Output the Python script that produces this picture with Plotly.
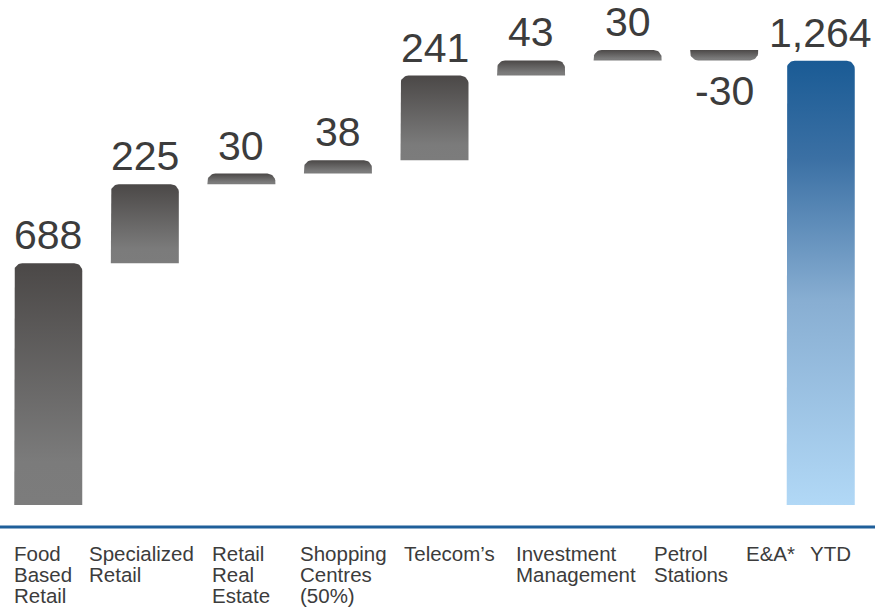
import numpy as np
import plotly.graph_objects as go

# Waterfall data
categories = ["Food Based Retail", "Specialized Retail", "Retail Real Estate",
              "Shopping Centres (50%)", "Telecom’s", "Investment Management",
              "Petrol Stations", "E&A*", "YTD"]
tick_lines = [["Food", "Based", "Retail"], ["Specialized", "Retail"],
              ["Retail", "Real", "Estate"], ["Shopping", "Centres", "(50%)"],
              ["Telecom’s"], ["Investment", "Management"], ["Petrol", "Stations"],
              ["E&A*"], ["YTD"]]
deltas = [688, 225, 30, 38, 241, 43, 30, -30]
total = 1264

# ---- layout constants (pixels) ----
W, H = 875, 608
M_L, M_R, M_T, M_B = 0, 6, 0, 103
PLOT_W = W - M_L - M_R
PLOT_H = H - M_T - M_B
Y_MAX = 1437.0
X_RANGE = [-0.5, 8.5]
px_per_x = PLOT_W / (X_RANGE[1] - X_RANGE[0])
px_per_y = PLOT_H / Y_MAX
HALF_W = 34 / px_per_x
RADIUS_PX = 8

GRAY_SCALE = [[0, "#7c7c7c"], [0.18, "#7b7b7b"], [1, "#4b4847"]]
BLUE_SCALE = [[0, "#b1d8f6"], [0.46, "#88aed2"], [0.78, "#3b70a4"], [1, "#1a5b95"]]
TEXT_COLOR = "#3c3c3c"
FONT = "Liberation Sans, Arial, sans-serif"

# bar extents from the running total
cum = np.cumsum(deltas)
starts = np.concatenate([[0], cum[:-1]])
bases = list(starts) + [0]
ends = list(cum) + [total]
values = deltas + [total]


def rounded_bar(xc, base, end):
    """Polygon for a bar with rounded corners at its far end."""
    d = 1 if end >= base else -1
    h = abs(end - base)
    ry = min(RADIUS_PX / px_per_y, h)
    rx = RADIUS_PX / px_per_x * (ry / (RADIUS_PX / px_per_y))
    xl, xr = xc - HALF_W, xc + HALF_W
    t = np.linspace(0, np.pi / 2, 10)
    xs = [xl, xl]
    ys = [base, end - d * ry]
    # left corner
    xs += list(xl + rx - rx * np.cos(t))
    ys += list(end - d * ry + d * ry * np.sin(t))
    # right corner
    xs += list(xr - rx + rx * np.sin(t))
    ys += list(end - d * ry + d * ry * np.cos(t))
    xs += [xr, xl]
    ys += [base, base]
    return xs, ys


fig = go.Figure()
for i, (b, e) in enumerate(zip(bases, ends)):
    xs, ys = rounded_bar(i, b, e)
    scale = BLUE_SCALE if i == len(categories) - 1 else GRAY_SCALE
    fig.add_trace(go.Scatter(
        x=xs, y=ys, mode="lines", fill="toself",
        line=dict(width=0),
        fillgradient=dict(type="vertical", colorscale=scale),
        hoverinfo="skip", showlegend=False,
    ))

# value labels
for i, (b, e, v) in enumerate(zip(bases, ends, values)):
    if v >= 0:
        fig.add_annotation(x=i, y=e, xref="x", yref="y", text=f"{v:,}",
                           showarrow=False, yanchor="bottom", yshift=3,
                           font=dict(family=FONT, size=41, color=TEXT_COLOR))
    else:
        fig.add_annotation(x=i, y=e, xref="x", yref="y", text=f"{v:,}",
                           showarrow=False, yanchor="top", yshift=-6,
                           font=dict(family=FONT, size=41, color=TEXT_COLOR))

# category labels, one text line per annotation
label_left_px = [12, 87, 210, 298, 402, 514, 652, 744, 808]
LINE_STEP = 21
LABEL_TOP_PX = 540
for left, lines in zip(label_left_px, tick_lines):
    for k, line in enumerate(lines):
        fig.add_annotation(
            x=left / PLOT_W, xref="paper", xanchor="left",
            y=0, yref="paper", yanchor="top",
            yshift=-(LABEL_TOP_PX - PLOT_H + k * LINE_STEP),
            text=line, showarrow=False, align="left",
            font=dict(family=FONT, size=20.5, color=TEXT_COLOR),
        )

# baseline rule
rule_y = -(527 - PLOT_H) / PLOT_H
fig.add_shape(type="line", xref="paper", yref="paper",
              x0=0, x1=W / PLOT_W, y0=rule_y, y1=rule_y,
              line=dict(color="#1f5f9a", width=3))

fig.update_layout(
    width=W, height=H,
    margin=dict(l=M_L, r=M_R, t=M_T, b=M_B),
    paper_bgcolor="white", plot_bgcolor="white",
    xaxis=dict(range=X_RANGE, visible=False, fixedrange=True),
    yaxis=dict(range=[0, Y_MAX], visible=False, fixedrange=True),
    showlegend=False,
)

fig.write_html("out.html")
